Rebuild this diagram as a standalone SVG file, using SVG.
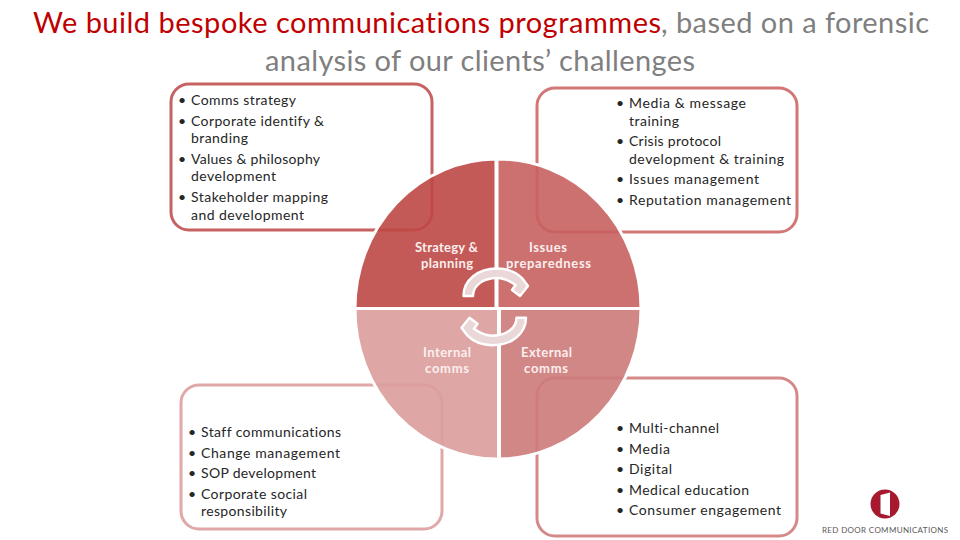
<svg xmlns="http://www.w3.org/2000/svg" width="960" height="540" viewBox="0 0 960 540">
<style>
text{font-family:"Lato","Carlito","Liberation Sans",sans-serif;font-variant-ligatures:none}
.t{font-size:29px}
.b{font-size:14px;fill:#262626}
.box{fill:#fff;stroke-width:3}
.q{stroke:#fff;stroke-width:3}
.l{font-size:13px;font-weight:700;fill:#fbeeee}
.a{fill:#ead8d9;stroke:#fff;stroke-width:2.4;stroke-linejoin:round}
</style>
<rect width="960" height="540" fill="#fff"/>
<g id="title">
<text class="t" x="33" y="33" fill="#c00000" textLength="628">We build bespoke communications programmes</text>
<text class="t" x="661" y="33" fill="#7f7f7f" textLength="268">, based on a forensic</text>
<text class="t" x="265" y="71" fill="#7f7f7f" textLength="430">analysis of our clients’ challenges</text>
</g>
<g id="box-strategy">
<rect class="box" x="171" y="84" width="261" height="146" rx="18" stroke="#c86262"/>
<g class="b">
<text x="178" y="105">•</text><text x="191" y="105" textLength="105">Comms strategy</text>
<text x="178" y="126">•</text><text x="191" y="126" textLength="133">Corporate identify &amp;</text>
<text x="191" y="143" textLength="57">branding</text>
<text x="178" y="164">•</text><text x="191" y="164" textLength="129">Values &amp; philosophy</text>
<text x="191" y="181" textLength="85">development</text>
<text x="178" y="202">•</text><text x="191" y="202" textLength="137">Stakeholder mapping</text>
<text x="191" y="220" textLength="113">and development</text>
</g>
</g>
<g id="box-issues">
<rect class="box" x="537" y="88" width="260" height="144" rx="18" stroke="#d27676"/>
<g class="b">
<text x="616" y="108">•</text><text x="629" y="108" textLength="117">Media &amp; message</text>
<text x="629" y="126" textLength="50">training</text>
<text x="616" y="146">•</text><text x="629" y="146" textLength="92">Crisis protocol</text>
<text x="629" y="164" textLength="155">development &amp; training</text>
<text x="616" y="184">•</text><text x="629" y="184" textLength="130">Issues management</text>
<text x="616" y="205">•</text><text x="629" y="205" textLength="162">Reputation management</text>
</g>
</g>
<g id="box-internal">
<rect class="box" x="181" y="385" width="261" height="144" rx="18" stroke="#e0a8a8"/>
<g class="b">
<text x="188" y="437">•</text><text x="201" y="437" textLength="140">Staff communications</text>
<text x="188" y="458">•</text><text x="201" y="458" textLength="139">Change management</text>
<text x="188" y="478">•</text><text x="201" y="478" textLength="115">SOP development</text>
<text x="188" y="499">•</text><text x="201" y="499" textLength="106">Corporate social</text>
<text x="201" y="516" textLength="86">responsibility</text>
</g>
</g>
<g id="box-external">
<rect class="box" x="537" y="378" width="260" height="158" rx="18" stroke="#d58a8a"/>
<g class="b">
<text x="616" y="433">•</text><text x="629" y="433" textLength="90">Multi-channel</text>
<text x="616" y="454">•</text><text x="629" y="454" textLength="41">Media</text>
<text x="616" y="474">•</text><text x="629" y="474" textLength="43">Digital</text>
<text x="616" y="495">•</text><text x="629" y="495" textLength="120">Medical education</text>
<text x="616" y="515">•</text><text x="629" y="515" textLength="152">Consumer engagement</text>
</g>
</g>
<g id="quadrant-strategy">
<path class="q" fill="#be4845" fill-opacity=".9" d="M496 308.500H355A142 149.500 0 0 1 496 159Z"/>
<text class="l" x="415" y="252" textLength="63">Strategy &amp;</text><text class="l" x="421" y="268" textLength="52">planning</text>
</g>
<g id="quadrant-issues">
<path class="q" fill="#c76261" fill-opacity=".9" d="M497 308.500H641A143 149.500 0 0 0 497 159Z"/>
<text class="l" x="529" y="252" textLength="38">Issues</text><text class="l" x="506" y="268" textLength="85">preparedness</text>
</g>
<g id="quadrant-internal">
<path class="q" fill="#db9c9c" fill-opacity=".9" d="M498.500 308.500H355A142 150 0 0 0 498.500 459Z"/>
<text class="l" x="423" y="357" textLength="48">Internal</text><text class="l" x="425" y="373" textLength="44">comms</text>
</g>
<g id="quadrant-external">
<path class="q" fill="#cd7a7a" fill-opacity=".9" d="M499.500 308.500H641A143 150 0 0 1 499.500 459Z"/>
<text class="l" x="521" y="357" textLength="51">External</text><text class="l" x="524" y="373" textLength="44">comms</text>
</g>
<g id="connectors">
<path id="arrow-top" class="a" d="M463.500 296C463.500 280 478 268.500 497 268.500C508 268.500 516 272 522 278L528 286L520 296L512 290L515.500 285C510 281 504 278 497 278C484 278 473 285 473 296Z"/>
<path id="arrow-bottom" class="a" transform="rotate(180 494.750 306.850)" d="M463.500 296C463.500 280 478 268.500 497 268.500C508 268.500 516 272 522 278L528 286L520 296L512 290L515.500 285C510 281 504 278 497 278C484 278 473 285 473 296Z"/>
</g>
<g id="logo">
<circle cx="885" cy="504" r="14.500" fill="#a6192e"/>
<path d="M890 492.500V516L880.500 513.500V495Z" fill="#fff"/>
<text x="822" y="533" font-size="8" fill="#595959" textLength="126">RED DOOR COMMUNICATIONS</text>
</g>
</svg>
